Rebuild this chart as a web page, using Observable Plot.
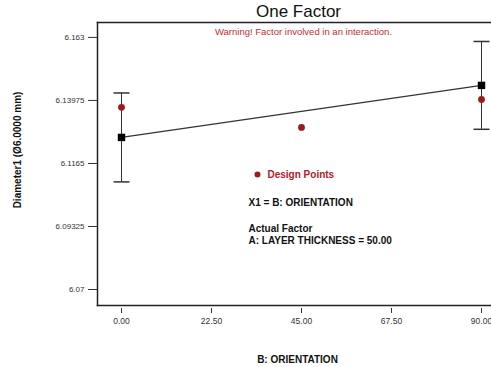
<!DOCTYPE html>
<html>
<head>
<meta charset="utf-8">
<script src="https://cdn.jsdelivr.net/npm/d3@7"></script>
<script src="https://cdn.jsdelivr.net/npm/@observablehq/plot@0.6"></script>
<style>
  html, body { margin: 0; padding: 0; background: #fff; }
  svg { display: block; }
</style>
</head>
<body>
<div id="chart"></div>
<script>
// Factor levels of B: ORIENTATION with model prediction and 95% interval
const orientation = [0, 90];
const predicted = [6.1261, 6.1453];
const ciLow = [6.1097, 6.1291];
const ciHigh = [6.1425, 6.1615];

// Measured design points
const designX = [0, 45, 90];
const designY = [6.1372, 6.1298, 6.1401];

// Axis ticks and their labels
const yTicks = [6.07, 6.09325, 6.1165, 6.13975, 6.163];
const yTickLabels = ["6.07", "6.09325", "6.1165", "6.13975", "6.163"];
const xTicks = [0, 22.5, 45, 67.5, 90];
const xTickLabels = ["0.00", "22.50", "45.00", "67.50", "90.00"];

const fit = orientation.map((x, i) => ({x, y: predicted[i], lo: ciLow[i], hi: ciHigh[i]}));
const design = designX.map((x, i) => ({x, y: designY[i]}));

// Horizontal cap drawn as a symbol so it stays a fixed pixel width
const cap = {
  draw(context, size) {
    const w = Math.sqrt(size / Math.PI);
    context.moveTo(-w, 0);
    context.lineTo(w, 0);
  }
};

const font = "Liberation Sans, Arial, sans-serif";

const chart = Plot.plot({
  width: 491,
  height: 367,
  marginLeft: 97,
  marginTop: 22,
  marginBottom: 62,
  marginRight: 0,
  style: {fontFamily: font, background: "#fff"},
  x: {domain: [-6, 92.5]},
  y: {domain: [6.0641, 6.1685]},
  marks: [
    Plot.frame({anchor: "left", stroke: "#222", strokeWidth: 1.5}),
    Plot.frame({anchor: "top", stroke: "#222", strokeWidth: 1.5}),
    Plot.frame({anchor: "bottom", stroke: "#222", strokeWidth: 1.5}),
    Plot.axisY({
      ticks: yTicks,
      tickFormat: (d) => yTickLabels[yTicks.indexOf(d)],
      tickSize: 9,
      tickPadding: 4,
      fontSize: 8,
      color: "#333",
      label: null
    }),
    Plot.axisX({
      ticks: xTicks,
      tickFormat: (d) => xTickLabels[xTicks.indexOf(d)],
      tickSize: 5,
      tickPadding: 4,
      dy: 3,
      fontSize: 8.5,
      color: "#333",
      label: null
    }),
    // Error bars
    Plot.ruleX(fit, {x: "x", y1: "lo", y2: "hi", stroke: "#333", strokeWidth: 1}),
    Plot.dot(fit, {x: "x", y: "lo", symbol: cap, r: 8, stroke: "#333", strokeWidth: 1.5, fill: "none"}),
    Plot.dot(fit, {x: "x", y: "hi", symbol: cap, r: 8, stroke: "#333", strokeWidth: 1.5, fill: "none"}),
    // Prediction line
    Plot.line(fit, {x: "x", y: "y", stroke: "#333", strokeWidth: 1.2}),
    Plot.dot(fit, {x: "x", y: "y", symbol: "square", r: 4.2, fill: "#000", stroke: "none"}),
    // Design points
    Plot.dot(design, {x: "x", y: "y", r: 3.4, fill: "#9b1b1f", stroke: "none"}),
    // Title and warning
    Plot.text(["One Factor"], {frameAnchor: "top", dx: 4, dy: -11, fontSize: 17, fill: "#111", lineAnchor: "middle"}),
    Plot.text(["Warning! Factor involved in an interaction."], {frameAnchor: "top", dx: 9, dy: 9, fontSize: 9.5, fill: "#c0302f", lineAnchor: "middle"}),
    // Legend and factor notes
    Plot.dot([0], {frameAnchor: "top-left", dx: 160, dy: 152, r: 3, fill: "#9b1b1f"}),
    Plot.text(["Design Points"], {frameAnchor: "top-left", dx: 170, dy: 152, textAnchor: "start", lineAnchor: "middle", fontSize: 10, fontWeight: "bold", fill: "#b0202a"}),
    Plot.text(["X1 = B: ORIENTATION"], {frameAnchor: "top-left", dx: 151, dy: 180, textAnchor: "start", lineAnchor: "middle", fontSize: 10, fontWeight: "bold", fill: "#111"}),
    Plot.text(["Actual Factor"], {frameAnchor: "top-left", dx: 151, dy: 206, textAnchor: "start", lineAnchor: "middle", fontSize: 10, fontWeight: "bold", fill: "#111"}),
    Plot.text(["A: LAYER THICKNESS = 50.00"], {frameAnchor: "top-left", dx: 151, dy: 218, textAnchor: "start", lineAnchor: "middle", fontSize: 10, fontWeight: "bold", fill: "#111"}),
    // Axis titles
    Plot.text(["Diameter1 (Ø6.0000 mm)"], {frameAnchor: "left", dx: -80, dy: -14, rotate: -90, textAnchor: "middle", fontSize: 10, fontWeight: "bold", fill: "#111", lineAnchor: "middle"}),
    Plot.text(["B: ORIENTATION"], {frameAnchor: "bottom", dx: 3, dy: 54, textAnchor: "middle", fontSize: 10, fontWeight: "bold", fill: "#111", lineAnchor: "middle"})
  ]
});

document.getElementById("chart").append(chart);
</script>
</body>
</html>
